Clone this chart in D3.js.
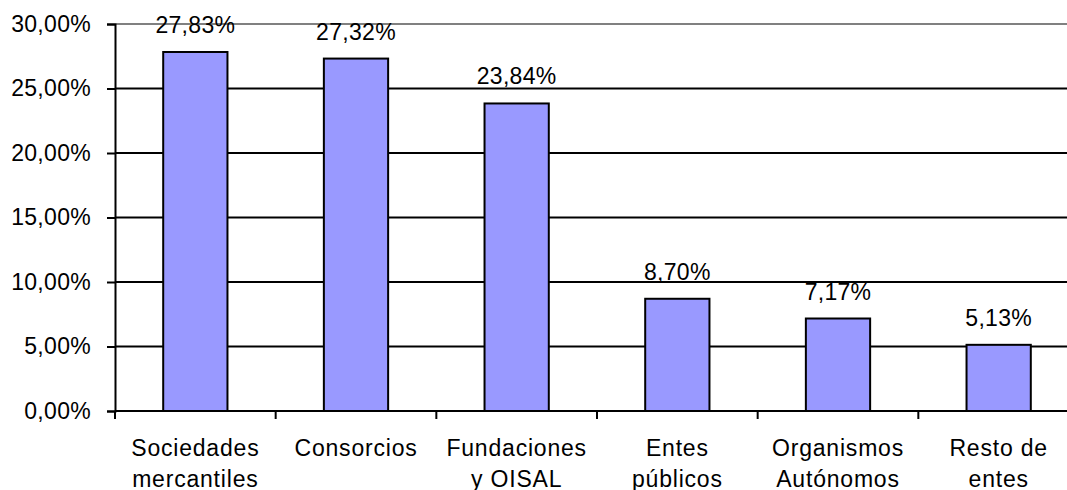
<!DOCTYPE html>
<meta charset="utf-8">
<script src="https://d3js.org/d3.v7.min.js"></script>
<style>
  body { margin: 0; background: #fff; }
  text { font-family: "Liberation Sans", Arial, sans-serif; }
</style>
<div id="chart"></div>
<script>

// data
var categories = [
  ["Sociedades", "mercantiles"],
  ["Consorcios"],
  ["Fundaciones", "y OISAL"],
  ["Entes", "públicos"],
  ["Organismos", "Autónomos"],
  ["Resto de", "entes"]
];
var values = [27.83, 27.32, 23.84, 8.70, 7.17, 5.13];
var yTicks = [0, 5, 10, 15, 20, 25, 30];

var W = 1067, H = 490;
var margin = {top: 24, right: -12, bottom: 79, left: 115};
var width = W - margin.left - margin.right,
    height = H - margin.top - margin.bottom;

var fmt = function(v) { return v.toFixed(2).replace(".", ",") + "%"; };

var svg = d3.select("#chart").append("svg")
    .attr("width", W)
    .attr("height", H)
  .append("g")
    .attr("transform", "translate(" + margin.left + "," + margin.top + ")");

var x = d3.scaleBand()
    .domain(d3.range(categories.length))
    .range([0, width])
    .paddingInner(0.6)
    .paddingOuter(0.3);

var y = d3.scaleLinear()
    .domain([0, 30])
    .range([height, 0]);

// gridlines
svg.append("g")
  .selectAll("line")
  .data(yTicks.filter(function(d) { return d > 0; }))
  .enter().append("line")
    .attr("x1", 0)
    .attr("x2", width)
    .attr("y1", function(d) { return y(d); })
    .attr("y2", function(d) { return y(d); })
    .attr("stroke", function(d) { return d == 30 ? "#808080" : "#000"; })
    .attr("stroke-width", 2);

// bars
svg.append("g")
  .selectAll("rect")
  .data(values)
  .enter().append("rect")
    .attr("x", function(d, i) { return x(i); })
    .attr("y", function(d) { return y(d); })
    .attr("width", x.bandwidth())
    .attr("height", function(d) { return height - y(d); })
    .attr("fill", "#9999ff")
    .attr("stroke", "#000")
    .attr("stroke-width", 2);

// y axis
var yAxis = svg.append("g")
  .call(d3.axisLeft(y).tickValues(yTicks).tickSize(8).tickPadding(16)
    .tickFormat(fmt));
yAxis.select(".domain").attr("stroke-width", 2);
yAxis.selectAll(".tick line").attr("stroke-width", 2);
yAxis.selectAll("text")
  .attr("font-size", 23)
  .attr("letter-spacing", 0.3)
  .attr("font-family", "Liberation Sans, Arial, sans-serif")
  .attr("fill", "#000");

// x axis baseline + ticks at category boundaries
var step = x.step();
var x0 = x(0) - step * x.paddingOuter();
svg.append("line")
  .attr("x1", 0).attr("x2", width)
  .attr("y1", height).attr("y2", height)
  .attr("stroke", "#000").attr("stroke-width", 2);
svg.append("g")
  .selectAll("line")
  .data(d3.range(categories.length + 1))
  .enter().append("line")
    .attr("x1", function(i) { return x0 + i * step; })
    .attr("x2", function(i) { return x0 + i * step; })
    .attr("y1", height)
    .attr("y2", height + 8)
    .attr("stroke", "#000")
    .attr("stroke-width", 2);

// category labels
var catLabels = svg.append("g")
  .selectAll("text")
  .data(categories)
  .enter().append("text")
    .attr("text-anchor", "middle")
    .attr("font-size", 23)
    .attr("letter-spacing", 0.8)
    .attr("fill", "#000")
    .attr("transform", function(d, i) {
      return "translate(" + (x(i) + x.bandwidth() / 2) + "," + (height + 45) + ")";
    });
catLabels.selectAll("tspan")
  .data(function(d) { return d; })
  .enter().append("tspan")
    .attr("x", 0)
    .attr("y", function(d, j) { return j * 31; })
    .text(function(d) { return d; });

// value labels
svg.append("g")
  .selectAll("text")
  .data(values)
  .enter().append("text")
    .attr("x", function(d, i) { return x(i) + x.bandwidth() / 2; })
    .attr("y", function(d) { return y(d) - 19; })
    .attr("text-anchor", "middle")
    .attr("font-size", 23)
    .attr("letter-spacing", 0.3)
    .attr("fill", "#000")
    .text(fmt);

</script>
